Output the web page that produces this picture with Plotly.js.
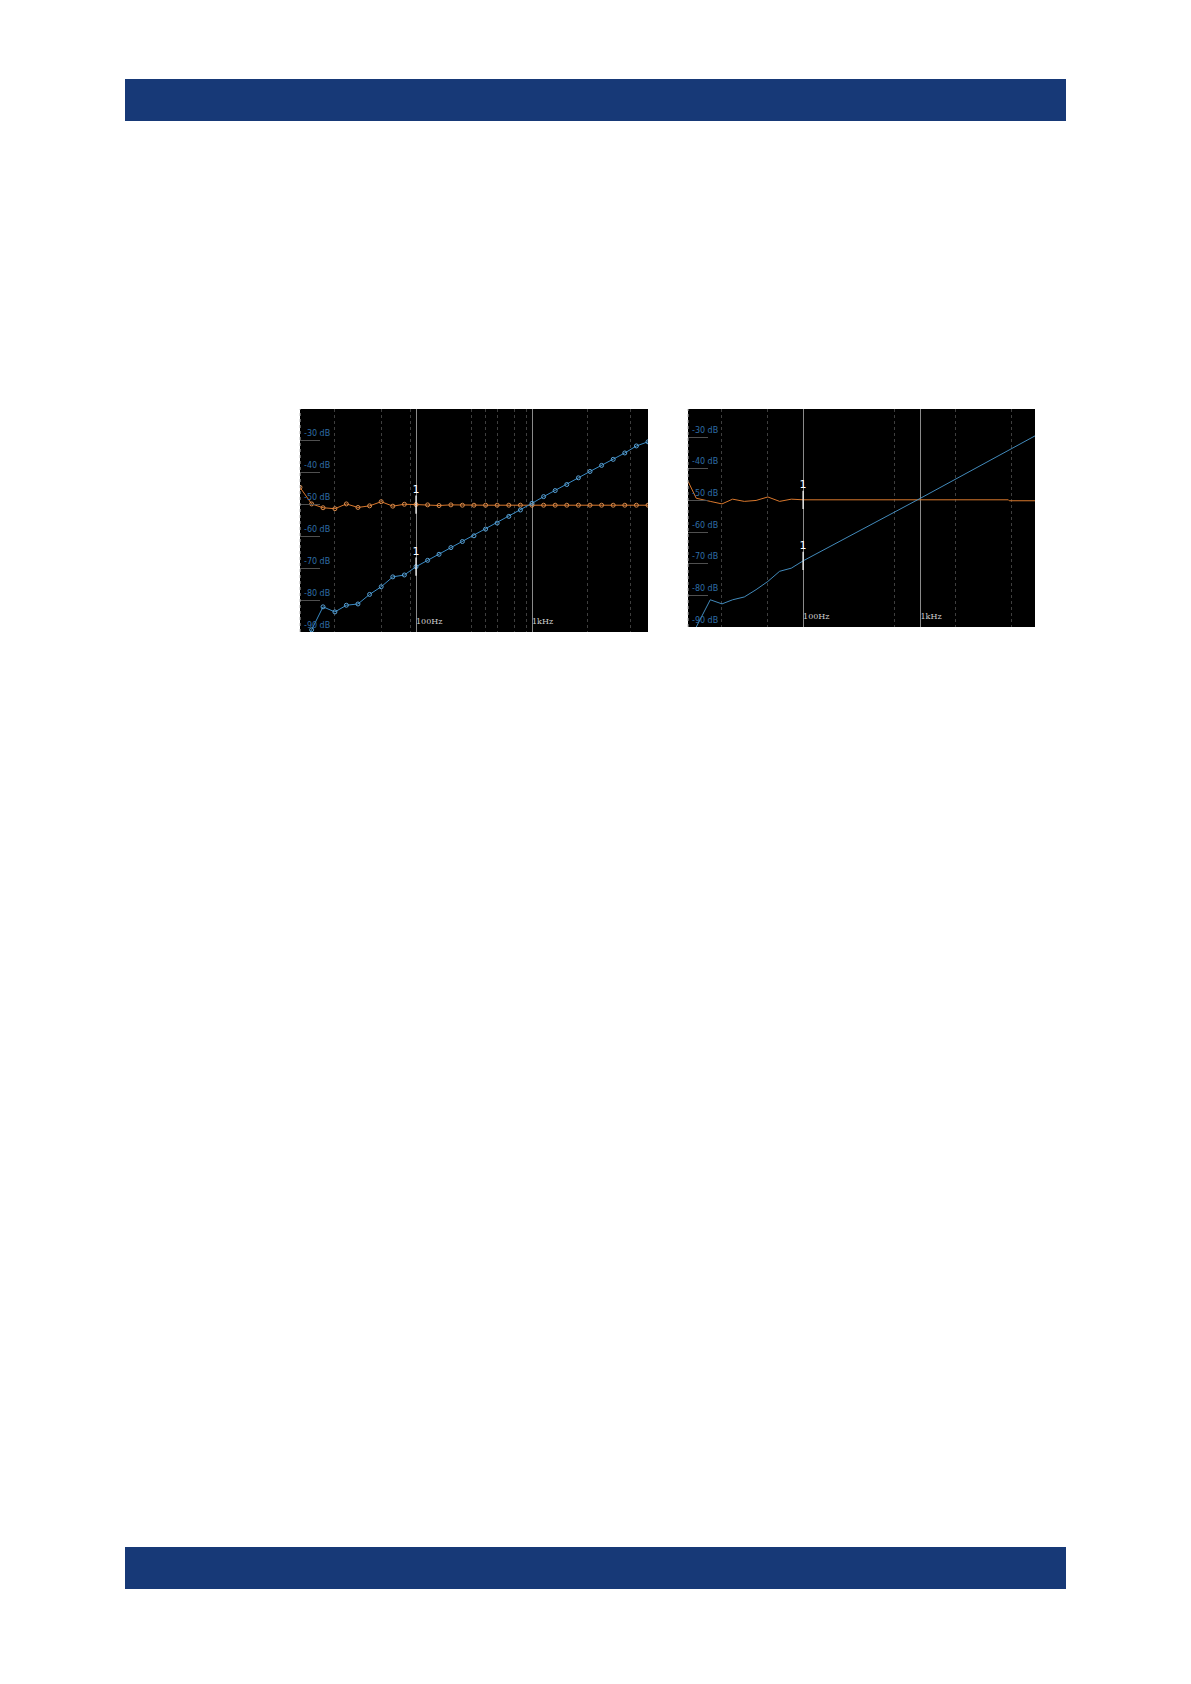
<!DOCTYPE html>
<html>
<head>
<meta charset="utf-8">
<script src="https://cdn.plot.ly/plotly-3.0.1.min.js"></script>
<style>html,body{margin:0;padding:0;background:#fff;}#chart{width:1191px;height:1684px;}</style>
</head>
<body>
<div id="chart"></div>
<script>
// ---- Left chart data (points every 1/10 decade, 10 Hz .. 10 kHz) ----
const freqLeft = [10, 12.6, 15.8, 20, 25.1, 31.6, 39.8, 50.1, 63.1, 79.4,
  100, 126, 158, 200, 251, 316, 398, 501, 631, 794,
  1000, 1259, 1585, 1995, 2512, 3162, 3981, 5012, 6310, 7943, 10000];
const orangeLeft = [-44.6, -49.8, -51.0, -51.3, -49.8, -50.9, -50.4, -49.1, -50.5, -49.9,
  -50.0, -50.1, -50.3, -50.1, -50.2, -50.2, -50.2, -50.2, -50.2, -50.2,
  -50.2, -50.2, -50.2, -50.2, -50.2, -50.2, -50.2, -50.2, -50.2, -50.2, -50.2];
const blueLeft = [-96, -89.3, -82.1, -83.7, -81.6, -81.2, -78.2, -75.8, -72.7, -72.1,
  -69.5, -67.5, -65.6, -63.5, -61.6, -59.8, -57.7, -55.8, -53.7, -51.7,
  -49.6, -47.5, -45.6, -43.7, -41.6, -39.6, -37.7, -35.8, -33.8, -31.6, -30.3];

// ---- Right chart data (continuous sweep) ----
const freqRight = [10.5, 12.3, 16.2, 20.4, 25.1, 31.6, 39.8, 50.1, 63.1, 79.4, 100, 1000, 5600, 5700, 9440];
const orangeRight = [-44.0, -49.3, -50.3, -51.1, -49.6, -50.3, -50.0, -48.9, -50.3, -49.6, -49.8, -49.8, -49.8, -50.1, -50.1];
const blueRight = [-95, -90, -81.4, -82.7, -81.4, -80.5, -78.2, -75.6, -72.4, -71.4, -69.1, -49.3, -34.3, -34.1, -29.6];

// ---- Ticks ----
const yTickVals = [-30, -40, -50, -60, -70, -80, -90];
const yTickText = ['-30 dB', '-40 dB', '-50 dB', '-60 dB', '-70 dB', '-80 dB', '-90 dB'];
const xTickVals = [100, 1000];
const xTickText = ['100Hz', '1kHz'];
const minorLeft = [20, 50, 90, 300, 400, 500, 700, 900, 3000, 7000];
const minorRight = [20, 50, 600, 2000, 6000];
const markerFreq = 100;
const markerLabel = '1';

const ORANGE = '#d9782d', ORANGE_M = '#d98a4a';
const BLUE = '#3a8cc6', BLUE_M = '#5aa2d6';

function idxOf(arr, v) { return arr.indexOf(v); }
const iL = idxOf(freqLeft, markerFreq), iR = idxOf(freqRight, markerFreq);

const traces = [
  {x: freqLeft, y: orangeLeft, xaxis: 'x', yaxis: 'y', mode: 'lines+markers',
   line: {color: ORANGE, width: 1}, marker: {symbol: 'circle-open', size: 4, color: ORANGE_M, line: {width: 1}}},
  {x: freqLeft, y: blueLeft, xaxis: 'x', yaxis: 'y', mode: 'lines+markers',
   line: {color: BLUE, width: 1}, marker: {symbol: 'circle-open', size: 4, color: BLUE_M, line: {width: 1}}},
  {x: [freqLeft[iL], freqLeft[iL]], y: [orangeLeft[iL], blueLeft[iL]], xaxis: 'x', yaxis: 'y', mode: 'markers+text',
   text: [markerLabel, markerLabel], textposition: 'top center', textfont: {color: '#ffffff', size: 11, family: 'DejaVu Sans'},
   marker: {symbol: 'line-ns-open', size: 13, color: '#ffffff', line: {color: '#ffffff', width: 1.2}}},
  {x: freqRight, y: orangeRight, xaxis: 'x2', yaxis: 'y2', mode: 'lines',
   line: {color: ORANGE, width: 1}},
  {x: freqRight, y: blueRight, xaxis: 'x2', yaxis: 'y2', mode: 'lines',
   line: {color: '#4a9ad0', width: 0.9}},
  {x: [freqRight[iR], freqRight[iR]], y: [orangeRight[iR], blueRight[iR]], xaxis: 'x2', yaxis: 'y2', mode: 'markers+text',
   text: [markerLabel, markerLabel], textposition: 'top center', textfont: {color: '#ffffff', size: 11, family: 'DejaVu Sans'},
   marker: {symbol: 'line-ns-open', size: 13, color: '#ffffff', line: {color: '#ffffff', width: 1.2}}}
];

function xAxis(domain, range, anchor, minorVals) {
  return {
    type: 'log', domain: domain, range: range, anchor: anchor,
    tickmode: 'array', tickvals: xTickVals, ticktext: xTickText,
    ticks: '', ticklabelposition: 'inside right',
    tickfont: {size: 8, color: '#cfcfcf', family: 'DejaVu Serif'},
    showgrid: true, gridcolor: '#8a8a8a', gridwidth: 1,
    zeroline: false, showline: false, fixedrange: true,
    minor: {tickmode: 'array', tickvals: minorVals, showgrid: true, griddash: 'dot', gridcolor: '#3e3e3e', gridwidth: 1, ticks: ''}
  };
}
function yAxis(domain, range, anchor) {
  return {
    domain: domain, range: range, anchor: anchor,
    tickmode: 'array', tickvals: yTickVals,
    ticks: 'inside', ticklen: 20, tickwidth: 1, tickcolor: '#505050',
    showticklabels: false,
    showgrid: false, zeroline: false, showline: false, fixedrange: true
  };
}
function yLabels(xref, yref) {
  return yTickVals.map((v, i) => ({
    xref: xref, yref: yref, x: 0, y: v, xanchor: 'left', yanchor: 'middle',
    xshift: 2, yshift: 7, showarrow: false, text: yTickText[i],
    font: {size: 8, color: '#2f6ea6', family: 'DejaVu Sans'}
  }));
}

const W = 1191, H = 1684;
const px = v => v / W, py = v => 1 - v / H;

const layout = {
  width: W, height: H,
  margin: {l: 0, r: 0, t: 0, b: 0},
  paper_bgcolor: '#ffffff', plot_bgcolor: '#000000',
  showlegend: false,
  xaxis: xAxis([px(300), px(648)], [1, 4], 'y', minorLeft),
  yaxis: yAxis([py(632), py(409)], [-90, -20], 'x'),
  xaxis2: xAxis([px(688), px(1035)], [1.02, 3.975], 'y2', minorRight),
  yaxis2: yAxis([py(627), py(409)], [-90, -21.1], 'x2'),
  annotations: yLabels('x domain', 'y').concat(yLabels('x2 domain', 'y2')),
  shapes: [
    {type: 'rect', xref: 'paper', yref: 'paper', x0: px(125), x1: px(1066), y0: py(121), y1: py(79),
     fillcolor: '#173977', line: {width: 0}, layer: 'below'},
    {type: 'rect', xref: 'paper', yref: 'paper', x0: px(125), x1: px(1066), y0: py(1589), y1: py(1547),
     fillcolor: '#173977', line: {width: 0}, layer: 'below'},
    {type: 'line', xref: 'x domain', yref: 'y domain', x0: 0, x1: 0, y0: 0, y1: 1,
     line: {color: '#bbbbbb', width: 1, dash: 'dot'}},
    {type: 'line', xref: 'x2 domain', yref: 'y2 domain', x0: 0, x1: 0, y0: 0, y1: 1,
     line: {color: '#bbbbbb', width: 1, dash: 'dot'}}
  ]
};

Plotly.newPlot('chart', traces, layout, {staticPlot: true, displayModeBar: false});
</script>
</body>
</html>
